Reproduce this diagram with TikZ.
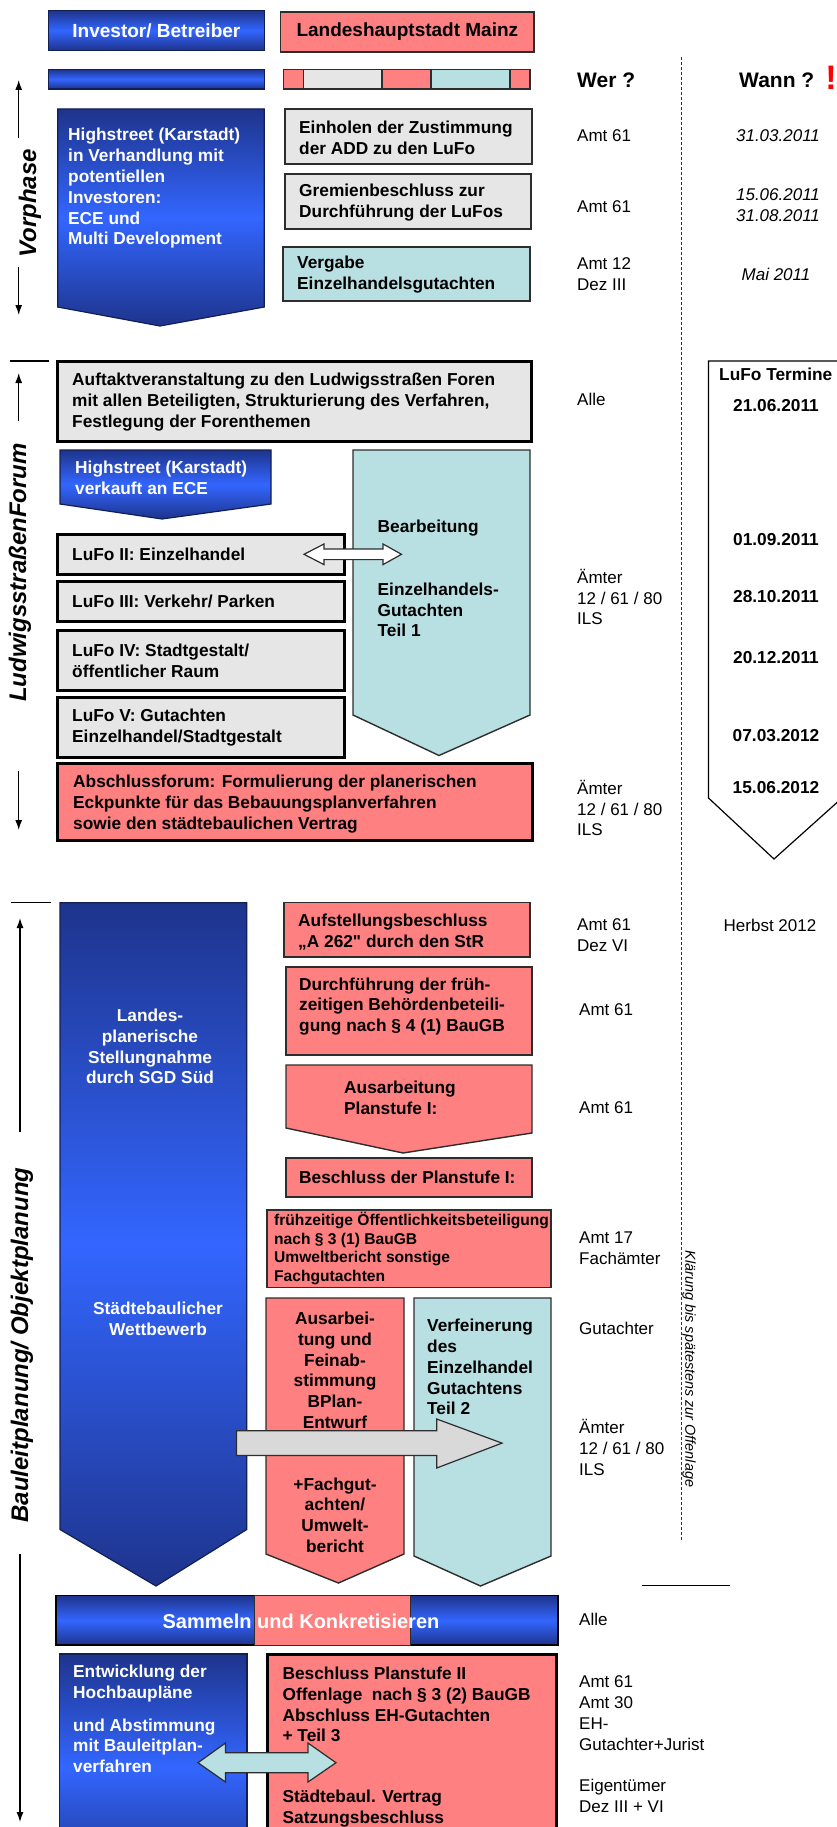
\documentclass[tikz,border=0pt]{standalone}
\usepackage{fontspec}
\setmainfont{Liberation Sans}
\usetikzlibrary{arrows.meta,fit}
\definecolor{navy}{RGB}{30,52,140}
\definecolor{bblue}{RGB}{51,102,255}
\definecolor{redf}{RGB}{255,128,128}
\definecolor{grayf}{RGB}{230,230,230}
\definecolor{cyanf}{RGB}{184,223,226}
\definecolor{agray}{RGB}{217,217,217}
\definecolor{bord}{RGB}{45,45,45}
\newcommand\txB{\fontsize{17.3}{20.8}\selectfont\bfseries}
\newcommand\txR{\fontsize{17}{20.8}\selectfont}
\newcommand\txI{\fontsize{17}{21.5}\selectfont\itshape}
\newcommand\txH{\fontsize{19}{23}\selectfont\bfseries}
\newcommand\txW{\fontsize{21}{25}\selectfont\bfseries}
\newcommand\txBang{\fontsize{34}{38}\selectfont\bfseries}
\newcommand\txS{\fontsize{24}{28}\selectfont\bfseries\itshape}
\newcommand\txSm{\fontsize{15.6}{18.5}\selectfont\bfseries}
\newcommand\txK{\fontsize{14.4}{17}\selectfont\itshape}
\newcommand\txSam{\fontsize{20}{24}\selectfont\bfseries}
\newcommand\strq{{\addfontfeatures{Ligatures=TeXOff}"}}
\begin{document}
\begin{tikzpicture}[x=1pt,y=-1pt,
  rbox/.style={fit={#1},inner sep=0pt},
  thinb/.style={draw=bord,line width=1.4pt},
  thickb/.style={draw=black,line width=3pt},
  bluegrad/.style={top color=navy,bottom color=navy,middle color=bblue},
  blueb/.style={draw=navy!60!black,line width=1.2pt},
  txt/.style={inner sep=0pt,anchor=west,align=left},
  ctxt/.style={inner sep=0pt,align=center},
  sarrow/.style={line width=1.2pt,-{Latex[length=10pt,width=7pt]}},
  sepline/.style={line width=1.2pt},
  dline/.style={draw=black!80,line width=0.9pt,dash pattern=on 3pt off 2pt}]
\useasboundingbox (0,0) rectangle (837,1827);

% ---------- header ----------
\node[rbox={(48.5,10.7) (264.3,50.3)},bluegrad,blueb] (inv) {};
\node[ctxt,text=white,font=\txH] (invT) at (inv.center) {Investor/ Betreiber};
\node[rbox={(280.7,12) (534,52)},fill=redf,thinb] (lhm) {};
\node[ctxt,font=\txH] (lhmT) at (lhm.center) {Landeshauptstadt Mainz};
\node[rbox={(48.5,69.3) (264.3,89)},bluegrad,blueb] (bar1) {};
\node[rbox={(283.5,69.3) (303.7,89)},fill=redf,thinb] (s1) {};
\node[rbox={(303.7,69.3) (382,89)},fill=grayf,thinb] (s2) {};
\node[rbox={(382,69.3) (431,89)},fill=redf,thinb] (s3) {};
\node[rbox={(431,69.3) (510,89)},fill=cyanf,thinb] (s4) {};
\node[rbox={(510,69.3) (530,89)},fill=redf,thinb] (s5) {};
\node[txt,font=\txW] (wer) at (577,80) {Wer ?};
\node[txt,font=\txW] (wann) at (739,80) {Wann ?};
\node[inner sep=0pt,font=\txBang,text=red] (bang) at (831,77.5) {!};

% dashed separator
\coordinate (dTop) at (681,57);
\coordinate (dBot) at (681,1540);
\draw[dline] (dTop) -- (dBot);

% ---------- Vorphase ----------
\coordinate (v1) at (18.7,138); \coordinate (v2) at (18.7,80);
\coordinate (v3) at (18.7,267); \coordinate (v4) at (18.7,315);
\draw[sarrow] (v1) -- (v2);
\draw[sarrow] (v3) -- (v4);
\node[rotate=90,font=\txS,inner sep=0pt] (vorphase) at (30,203.5) {Vorphase};

\path[bluegrad,blueb] (57.7,109) -- (264.3,109) -- (264.3,307) -- (160,326) -- (57.7,307) -- cycle;
\node[txt,text=white,font=\txB] (p1t) at (68,188.5) {Highstreet (Karstadt)\\in Verhandlung mit\\potentiellen\\Investoren:\\ECE und\\Multi Development};

\node[rbox={(285,109) (532,164)},fill=grayf,thinb] (einholen) {};
\node[txt,font=\txB] (einholenT) at (299,138) {Einholen der Zustimmung\\der ADD zu den LuFo};
\node[rbox={(285,174) (531,229)},fill=grayf,thinb] (gremien) {};
\node[txt,font=\txB] (gremienT) at (299,202.5) {Gremienbeschluss zur\\Durchführung der LuFos};
\node[rbox={(283,247) (530,301)},fill=cyanf,thinb] (vergabe) {};
\node[txt,font=\txB] (vergabeT) at (297,274.5) {Vergabe\\Einzelhandelsgutachten};

\node[txt,font=\txR] (w1) at (577,136) {Amt 61};
\node[txt,font=\txR] (w2) at (577,207) {Amt 61};
\node[txt,font=\txR] (w3) at (577,274) {Amt 12\\Dez III};
\node[ctxt,font=\txI] (d1) at (778,136) {31.03.2011};
\node[ctxt,font=\txI] (d2) at (778,205) {15.06.2011\\31.08.2011};
\node[ctxt,font=\txI] (d3) at (776,274) {Mai 2011};

% ---------- LudwigsstrassenForum ----------
\coordinate (l0a) at (9.6,361); \coordinate (l0b) at (49,361);
\draw[sepline] (l0a) -- (l0b);
\coordinate (l1) at (18.7,421); \coordinate (l2) at (18.7,373);
\coordinate (l3) at (18.7,771); \coordinate (l4) at (18.7,830);
\draw[sarrow] (l1) -- (l2);
\draw[sarrow] (l3) -- (l4);
\node[rotate=90,font=\txS,inner sep=0pt] (lud) at (20,572.5) {LudwigsstraßenForum};

\node[rbox={(57.7,361.4) (531,441)},fill=grayf,thickb] (auftakt) {};
\node[txt,font=\txB] (auftaktT) at (72,402) {Auftaktveranstaltung zu den Ludwigsstraßen Foren\\mit allen Beteiligten, Strukturierung des Verfahren,\\Festlegung der Forenthemen};

\path[bluegrad,blueb] (60,450) -- (271,450) -- (271,504) -- (162,519) -- (60,504) -- cycle;
\node[txt,text=white,font=\txB] (hsT) at (75,478) {Highstreet (Karstadt)\\verkauft an ECE};

\path[fill=cyanf,thinb] (353,450) -- (530,450) -- (530,715) -- (439,755.5) -- (353,715) -- cycle;
\node[txt,font=\txB] (bearbT) at (377.5,528) {Bearbeitung};
\node[txt,font=\txB] (ehT) at (377.5,610) {Einzelhandels-\\Gutachten\\Teil 1};

\node[rbox={(57.7,534) (344,574.5)},fill=grayf,thickb] (lufo2) {};
\node[txt,font=\txB] (lufo2T) at (72,554) {LuFo II: Einzelhandel};
\node[rbox={(57.7,581) (344,621)},fill=grayf,thickb] (lufo3) {};
\node[txt,font=\txB] (lufo3T) at (72,601) {LuFo III: Verkehr/ Parken};
\node[rbox={(57.7,630) (344,690)},fill=grayf,thickb] (lufo4) {};
\node[txt,font=\txB] (lufo4T) at (72,660.5) {LuFo IV: Stadtgestalt/\\öffentlicher Raum};
\node[rbox={(57.7,697.6) (344,757)},fill=grayf,thickb] (lufo5) {};
\node[txt,font=\txB] (lufo5T) at (72,727.5) {LuFo V: Gutachten\\Einzelhandel/Stadtgestalt};

\path[fill=white,draw=bord,line width=1.2pt] (304,554.3) -- (324,544) -- (324,549) -- (383,549) -- (383,544) -- (401.5,554.3) -- (383,564.6) -- (383,559.6) -- (324,559.6) -- (324,564.6) -- cycle;

\node[rbox={(57.7,763.4) (532,840)},fill=redf,thickb] (absch) {};
\node[txt,font=\txB] (abschT) at (73,804) {Abschlussforum: Formulierung der planerischen\\Eckpunkte für das Bebauungsplanverfahren\\sowie den städtebaulichen Vertrag};

\node[txt,font=\txR] (w4) at (577,399) {Alle};
\node[txt,font=\txR] (w5) at (577,597) {Ämter\\12 / 61 / 80\\ILS};
\node[txt,font=\txR] (w6) at (577,808) {Ämter\\12 / 61 / 80\\ILS};

\path[fill=white,draw=black,line width=1.2pt] (708.5,361) -- (842,361) -- (842,798) -- (774,859) -- (708.5,798) -- cycle;
\node[txt,font=\txB] (lufoterm) at (719,374.5) {LuFo Termine};
\node[ctxt,font=\txB] (t1) at (776,405.5) {21.06.2011};
\node[ctxt,font=\txB] (t2) at (776,540) {01.09.2011};
\node[ctxt,font=\txB] (t3) at (776,597) {28.10.2011};
\node[ctxt,font=\txB] (t4) at (776,658) {20.12.2011};
\node[ctxt,font=\txB] (t5) at (776,735.5) {07.03.2012};
\node[ctxt,font=\txB] (t6) at (776,787.6) {15.06.2012};

% ---------- Bauleitplanung ----------
\coordinate (b0a) at (10.7,902.7); \coordinate (b0b) at (50.7,902.7);
\draw[sepline] (b0a) -- (b0b);
\coordinate (b1) at (20,1132); \coordinate (b2) at (20,918);
\coordinate (b3) at (20,1554); \coordinate (b4) at (20,1822);
\draw[sarrow] (b1) -- (b2);
\draw[sarrow] (b3) -- (b4);
\node[rotate=90,font=\txS,inner sep=0pt] (bau) at (22,1345) {Bauleitplanung/ Objektplanung};

\path[bluegrad,blueb] (60,902.7) -- (246.7,902.7) -- (246.7,1529.5) -- (156,1586) -- (60,1529.5) -- cycle;
\node[ctxt,text=white,font=\txB] (landesT) at (150,1046.5) {Landes-\\planerische\\Stellungnahme\\durch SGD Süd};
\node[ctxt,text=white,font=\txB] (wettT) at (158,1319) {Städtebaulicher\\Wettbewerb};

\node[rbox={(284,902.7) (530,957)},fill=redf,thinb] (aufst) {};
\node[txt,font=\txB] (aufstT) at (298,932) {Aufstellungsbeschluss\\„A 262\strq{} durch den StR};
\node[rbox={(286,967) (532,1055)},fill=redf,thinb] (durch) {};
\node[txt,font=\txB] (durchT) at (299,1006.5) {Durchführung der früh-\\zeitigen Behördenbeteili-\\gung nach § 4 (1) BauGB};
\path[fill=redf,thinb] (286,1065) -- (532,1065) -- (532,1133) -- (403,1153) -- (286,1128) -- cycle;
\node[txt,font=\txB] (ausarbT) at (344,1098) {Ausarbeitung\\Planstufe I:};
\node[rbox={(286,1158) (532,1197)},fill=redf,thinb] (beschl) {};
\node[txt,font=\txB] (beschlT) at (299,1177) {Beschluss der Planstufe I:};
\node[rbox={(267,1210) (551,1287.7)},fill=redf,thinb] (frueh) {};
\node[txt,font=\txSm] (fruehT) at (274,1248.4) {frühzeitige Öffentlichkeitsbeteiligung\\nach § 3 (1) BauGB\\Umweltbericht sonstige\\Fachgutachten};

\node[txt,font=\txR] (w7) at (577,935.5) {Amt 61\\Dez VI};
\node[txt,font=\txR] (w8) at (579,1010) {Amt 61};
\node[txt,font=\txR] (w9) at (579,1107.7) {Amt 61};
\node[txt,font=\txR] (w10) at (579,1248) {Amt 17\\Fachämter};
\node[txt,font=\txR] (herbst) at (723.5,925) {Herbst 2012};

\path[fill=redf,thinb] (266,1298) -- (404,1298) -- (404,1554) -- (338.5,1583) -- (266,1554) -- cycle;
\node[ctxt,font=\txB] (ausT1) at (335,1370.3) {Ausarbei-\\tung und\\Feinab-\\stimmung\\BPlan-\\Entwurf};
\node[ctxt,font=\txB] (ausT2) at (335,1515) {+Fachgut-\\achten/\\Umwelt-\\bericht};
\path[fill=cyanf,thinb] (414,1298) -- (551,1298) -- (551,1556) -- (480.5,1586) -- (414,1556) -- cycle;
\node[txt,font=\txB] (verfT) at (427,1367) {Verfeinerung\\des\\Einzelhandel\\Gutachtens\\Teil 2};
\path[fill=agray,draw=bord,line width=1.2pt] (236.5,1430.7) -- (436.7,1430.7) -- (436.7,1419) -- (502,1443.1) -- (436.7,1468) -- (436.7,1455.5) -- (236.5,1455.5) -- cycle;

\node[txt,font=\txR] (w11) at (579,1328) {Gutachter};
\node[txt,font=\txR] (w12) at (579,1447.5) {Ämter\\12 / 61 / 80\\ILS};
\node[rotate=-90,font=\txK,inner sep=0pt] (klaer) at (689,1369) {Klärung bis spätestens zur Offenlage};
\coordinate (h1) at (641.7,1585.5); \coordinate (h2) at (730,1585.5);
\draw[sepline] (h1) -- (h2);

% ---------- Sammeln ----------
\node[rbox={(56,1595.7) (558,1645)},bluegrad,draw=black,line width=1.4pt] (sammeln) {};
\node[rbox={(254,1595.7) (410,1645)},fill=redf,draw=bord,line width=1pt] (samred) {};
\node[ctxt,font=\txSam,text=white] (samT) at (301,1621) {Sammeln und Konkretisieren};
\node[txt,font=\txR] (w13) at (579,1619) {Alle};

\node[rbox={(59.7,1654) (247,1880)},bluegrad,blueb] (hoch) {};
\node[txt,text=white,font=\txB] (hochT1) at (73,1683.3) {Entwicklung der\\Hochbaupläne};
\node[txt,text=white,font=\txB] (hochT2) at (73,1745.7) {und Abstimmung\\mit Bauleitplan-\\verfahren};
\node[rbox={(267,1654) (556,1880)},fill=redf,thickb] (planII) {};
\node[txt,font=\txB] (planIIT1) at (282.4,1704.5) {Beschluss Planstufe II\\Offenlage\ \ nach § 3 (2) BauGB\\Abschluss EH-Gutachten\\+ Teil 3};
\node[txt,font=\txB] (planIIT2) at (282.4,1808.5) {Städtebaul. Vertrag\\Satzungsbeschluss};
\path[fill=cyanf,draw=bord,line width=1.2pt] (198,1762.7) -- (225.5,1743) -- (225.5,1752.7) -- (308,1752.7) -- (308,1743) -- (336,1762.7) -- (308,1782) -- (308,1772.7) -- (225.5,1772.7) -- (225.5,1782) -- cycle;

\node[txt,font=\txR] (w14) at (579,1713) {Amt 61\\Amt 30\\EH-\\Gutachter+Jurist};
\node[txt,font=\txR] (w15) at (579,1796) {Eigentümer\\Dez III + VI};
\end{tikzpicture}
\end{document}
